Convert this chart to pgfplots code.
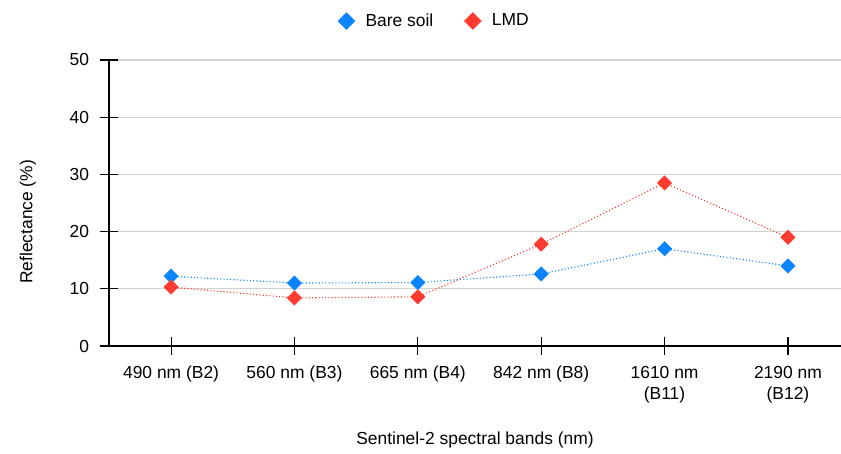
\documentclass[border=0pt]{standalone}
\usepackage{pgfplots}
\pgfplotsset{compat=1.18}
\usepackage{fontspec}
\setmainfont{Liberation Sans}
\definecolor{bsblue}{RGB}{10,132,255}
\definecolor{lmdred}{RGB}{255,59,48}
\pgfplotstableread{
x bare lmd
0 12.2 10.3
1 11.0 8.4
2 11.1 8.6
3 12.6 17.8
4 17.0 28.5
5 14.0 19.0
}\datatable
\begin{document}
\fontsize{17.5}{21}\selectfont
\begin{tikzpicture}
\path[use as bounding box] (0bp,0bp) rectangle (841bp,454bp);
\begin{axis}[
  at={(109bp,108bp)}, anchor=south west,
  scale only axis, width=732bp, height=286bp,
  font=\fontsize{17.5}{21}\selectfont,
  xmin=-0.503, xmax=5.43,
  ymin=0, ymax=50, ytick={0,10,...,50},
  xtick={0,1,2,3,4,5},
  xticklabels={{490 nm (B2)},{560 nm (B3)},{665 nm (B4)},{842 nm (B8)},{1610 nm\\(B11)},{2190 nm\\(B12)}},
  xticklabel style={align=center, yshift=-5bp},
  yticklabel style={xshift=-5bp},
  /pgf/number format/assume math mode=true,
  axis x line=bottom, axis y line=left,
  axis line style={-, black, line width=1.1pt},
  tick align=center, major tick length=18bp,
  tick style={black, line width=1.1pt},
  ymajorgrids, grid style={black!18, line width=1.1pt},
  xlabel={Sentinel-2 spectral bands (nm)},
  ylabel={Reflectance (\%)},
  xlabel style={at={(axis description cs:0.5,-0.3287)}, anchor=center},
  ylabel style={at={(axis description cs:-0.111,0.434)}, anchor=center},
  legend style={at={(0.4445,1.136)}, anchor=center, draw=none, fill=none,
    legend columns=2, /tikz/every even column/.append style={column sep=29bp}},
  legend image code/.code={\path[draw=none, fill=none] (-8bp,0bp) rectangle (17bp,0bp); \path[#1] plot[only marks] coordinates {(0bp,0bp)};},
  clip=false,
]
\addlegendimage{mark=square*, mark options={rotate=45, fill=bsblue, draw=bsblue}, mark size=6bp}
\addlegendentry{Bare soil}
\addlegendimage{mark=square*, mark options={rotate=45, fill=lmdred, draw=lmdred}, mark size=6bp}
\addlegendentry{LMD}
\addplot[forget plot, color=bsblue, line width=1.1pt, dash pattern=on 1.1pt off 2.2pt, mark=square*, mark size=4.8bp, mark options={rotate=45, solid, fill=bsblue}] table[x=x, y=bare] {\datatable};
\addplot[forget plot, color=lmdred, line width=1.1pt, dash pattern=on 1.1pt off 2.2pt, mark=square*, mark size=4.8bp, mark options={rotate=45, solid, fill=lmdred}] table[x=x, y=lmd] {\datatable};
\end{axis}
\end{tikzpicture}
\end{document}
